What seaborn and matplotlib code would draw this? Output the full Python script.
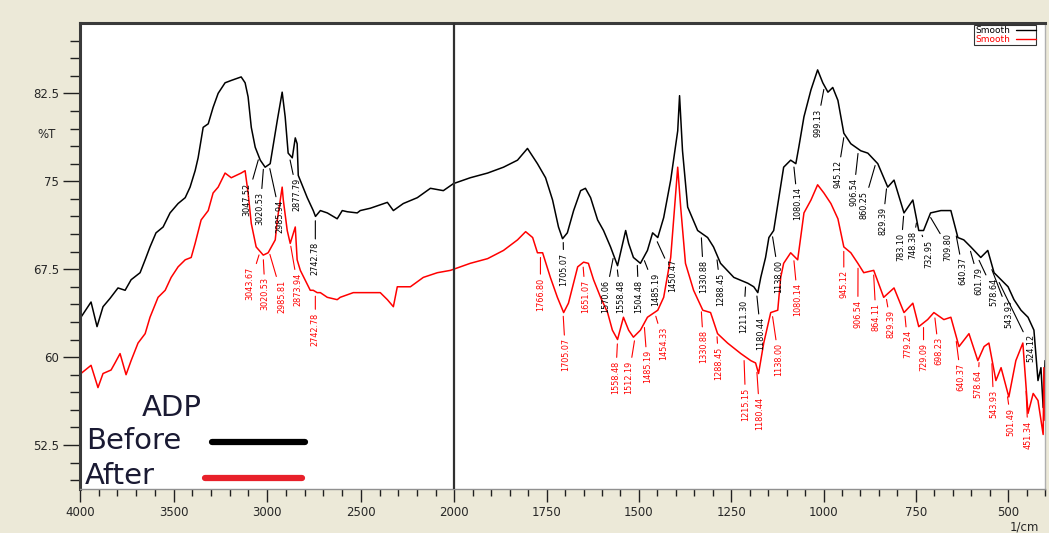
import numpy as np
import pandas as pd
import matplotlib
matplotlib.use('Agg')
import matplotlib.pyplot as plt
import seaborn as sns
from matplotlib.lines import Line2D
from matplotlib.ticker import FixedLocator, FuncFormatter

sns.set_style('ticks')
plt.rcParams['font.family'] = ['DejaVu Sans']

# spectra (wavenumber 1/cm, %T)
before_wn = [3995, 3941, 3909, 3877, 3840, 3797, 3759, 3727, 3679, 3652, 3626, 3594, 3556, 3519,
             3476, 3438, 3412, 3385, 3369, 3342, 3315, 3289, 3262, 3225, 3192, 3139, 3118, 3102,
             3085, 3064, 3037, 3011, 2984, 2946, 2920, 2904, 2888, 2866, 2850, 2840, 2834, 2786,
             2754, 2742, 2716, 2679, 2626, 2599, 2572, 2519, 2503, 2449, 2358, 2326, 2273, 2198,
             2128, 2059, 2005, 1957, 1910, 1867, 1829, 1802, 1775, 1753, 1734, 1718, 1707, 1694,
             1677, 1658, 1645, 1631, 1612, 1596, 1577, 1558, 1544, 1536, 1528, 1515, 1496, 1477,
             1463, 1449, 1433, 1414, 1395, 1390, 1382, 1368, 1341, 1314, 1298, 1279, 1243, 1205,
             1189, 1178, 1170, 1157, 1148, 1135, 1121, 1108, 1089, 1075, 1067, 1053, 1034, 1016,
             1002, 988, 975, 961, 945, 926, 899, 880, 853, 826, 809, 782, 758, 742, 729, 710, 682,
             655, 636, 620, 601, 574, 555, 538, 519, 500, 484, 465, 446, 430, 419, 411, 405, 400]
before_t = [63.4, 64.7, 62.6, 64.3, 65.0, 65.9, 65.7, 66.6, 67.2, 68.3, 69.4, 70.6, 71.1, 72.3,
            73.1, 73.6, 74.5, 75.9, 77.0, 79.6, 79.9, 81.3, 82.5, 83.4, 83.6, 83.9, 83.4, 82.2,
            79.6, 77.9, 76.8, 76.2, 76.5, 80.2, 82.6, 80.5, 77.4, 77.0, 78.7, 78.2, 75.5, 73.6,
            72.5, 72.0, 72.5, 72.3, 71.8, 72.5, 72.4, 72.3, 72.5, 72.7, 73.2, 72.5, 73.1, 73.6,
            74.4, 74.2, 74.8, 75.3, 75.7, 76.2, 76.8, 77.8, 76.5, 75.3, 73.4, 71.1, 70.1, 70.6,
            72.5, 74.2, 74.4, 73.6, 71.7, 70.8, 69.4, 67.8, 69.7, 70.8, 69.7, 68.5, 68.0, 69.1,
            70.6, 70.2, 71.9, 75.1, 79.3, 82.3, 77.6, 72.8, 70.8, 70.2, 69.4, 68.0, 66.8, 66.3,
            66.0, 65.5, 66.8, 68.5, 70.2, 70.8, 73.6, 76.2, 76.8, 76.5, 77.9, 80.5, 82.8, 84.5,
            83.4, 82.6, 83.0, 81.9, 79.1, 78.2, 77.6, 77.4, 76.5, 74.5, 75.1, 72.3, 73.4, 70.8,
            70.8, 72.3, 72.5, 72.5, 70.2, 70.0, 69.4, 68.5, 69.1, 67.2, 66.6, 66.0, 64.9, 64.0,
            63.4, 62.3, 58.0, 59.1, 55.7, 59.7]

after_wn = [3995, 3941, 3904, 3877, 3834, 3813, 3786, 3754, 3727, 3690, 3652, 3626, 3583, 3545,
            3513, 3476, 3438, 3406, 3385, 3353, 3315, 3289, 3262, 3225, 3192, 3139, 3118, 3102,
            3085, 3059, 3021, 2995, 2957, 2946, 2920, 2914, 2893, 2877, 2850, 2840, 2823, 2770,
            2754, 2733, 2716, 2679, 2626, 2610, 2540, 2449, 2396, 2358, 2326, 2305, 2235, 2166,
            2091, 2021, 1957, 1910, 1867, 1829, 1807, 1788, 1775, 1761, 1740, 1721, 1704, 1691,
            1666, 1650, 1637, 1623, 1604, 1585, 1572, 1558, 1542, 1528, 1515, 1496, 1477, 1449,
            1433, 1414, 1395, 1387, 1374, 1352, 1327, 1306, 1287, 1260, 1224, 1197, 1184, 1176,
            1162, 1143, 1124, 1116, 1108, 1089, 1070, 1053, 1034, 1016, 999, 980, 961, 945, 926,
            907, 891, 864, 837, 809, 782, 758, 742, 718, 701, 674, 655, 633, 606, 582, 565, 552,
            533, 519, 498, 479, 460, 446, 432, 419, 405, 403, 400]
after_t = [58.6, 59.3, 57.4, 58.6, 58.9, 59.5, 60.3, 58.5, 59.7, 61.2, 62.0, 63.4, 65.1, 65.7,
           66.8, 67.7, 68.3, 68.5, 69.7, 71.7, 72.5, 74.0, 74.5, 75.7, 75.3, 75.7, 75.9, 74.0,
           71.4, 69.4, 68.7, 68.9, 70.0, 71.7, 74.5, 73.4, 70.8, 69.7, 71.1, 68.3, 67.4, 65.7,
           65.7, 65.5, 65.5, 65.1, 64.9, 65.1, 65.5, 65.5, 65.5, 64.9, 64.3, 66.0, 66.0, 66.8,
           67.2, 67.4, 68.0, 68.4, 69.1, 70.0, 70.7, 70.2, 68.9, 68.9, 66.8, 65.1, 63.8, 64.6,
           67.7, 68.1, 68.0, 66.6, 65.1, 63.8, 62.3, 61.5, 63.4, 62.3, 61.7, 62.3, 63.4, 64.0,
           65.1, 68.5, 76.2, 72.8, 68.0, 65.7, 64.0, 63.8, 62.0, 61.2, 60.3, 59.7, 59.5, 58.6,
           61.2, 63.8, 64.0, 66.8, 68.0, 68.9, 68.3, 72.3, 73.4, 74.7, 74.0, 73.1, 71.8, 69.4,
           68.9, 68.0, 67.2, 67.4, 65.1, 65.9, 63.8, 64.6, 62.6, 63.2, 63.8, 63.2, 63.4, 60.9,
           62.0, 59.7, 60.9, 61.2, 58.0, 59.1, 56.6, 59.7, 61.2, 55.2, 56.9, 56.3, 53.4, 59.1,
           54.6]

# peak labels: text, label x (1/cm), label top (%T)
before_peaks = ['3047.52', '3020.53', '2985.94', '2877.79', '2742.78', '1705.07', '1570.06',
                '1558.48', '1504.48', '1485.19', '1450.47', '1330.88', '1288.45', '1211.30',
                '1180.44', '1138.00', '1080.14', '999.13', '945.12', '906.54', '860.25',
                '829.39', '783.10', '748.38', '732.95', '709.80', '640.37', '601.79', '578.64',
                '543.93', '524.12']
before_label_x = [3107, 3037, 2930, 2839, 2743, 1704, 1590, 1550, 1501, 1455, 1409, 1325, 1279,
                  1216, 1170, 1121, 1070, 1016, 961, 918, 891, 839, 790, 758, 714, 663, 622, 579,
                  539, 498, 438]
before_label_top = [74.9, 74.1, 73.4, 75.3, 69.8, 68.9, 66.6, 66.6, 66.6, 67.2, 68.4, 68.3, 67.2,
                    64.9, 63.4, 68.3, 74.5, 81.2, 76.8, 75.3, 74.2, 72.8, 70.6, 70.8, 70.0, 70.6,
                    68.5, 67.7, 66.8, 64.9, 62.0]

after_peaks = ['3043.67', '3020.53', '2985.81', '2873.94', '2742.78', '1766.80', '1705.07',
               '1651.07', '1558.48', '1512.19', '1485.19', '1454.33', '1330.88', '1288.45',
               '1215.15', '1180.44', '1138.00', '1080.14', '945.12', '906.54', '864.11',
               '829.39', '779.24', '729.09', '698.23', '640.37', '578.64', '543.93', '501.49',
               '451.34']
after_label_x = [3091, 3011, 2920, 2834, 2743, 1767, 1699, 1645, 1563, 1528, 1477, 1433, 1325,
                 1284, 1211, 1173, 1121, 1070, 945, 907, 858, 818, 772, 729, 688, 628, 582, 539,
                 492, 446]
after_label_top = [67.7, 66.8, 66.6, 67.2, 63.8, 66.8, 61.6, 66.6, 59.7, 59.7, 60.6, 62.6, 62.3,
                   60.9, 57.4, 56.6, 61.2, 66.3, 67.4, 64.9, 64.6, 64.0, 62.3, 61.2, 61.7, 59.5,
                   58.9, 57.2, 55.7, 54.6]

# the instrument draws 4000-2000 compressed and 2000-400 expanded
k_lo, k_hi = 0.36875, 0.187

def fwd(x):
    x = np.asarray(x, dtype=float)
    return np.where(x <= 2000, x * k_lo, 2000 * k_lo + (x - 2000) * k_hi)

def inv(u):
    u = np.asarray(u, dtype=float)
    b = 2000 * k_lo
    return np.where(u <= b, u / k_lo, 2000 + (u - b) / k_hi)

df = pd.concat([
    pd.DataFrame({'wn': before_wn, 'T': before_t, 'series': 'Before'}),
    pd.DataFrame({'wn': after_wn, 'T': after_t, 'series': 'After'}),
])

bg = '#ECE9D8'
fig = plt.figure(figsize=(10.49, 5.33), dpi=100, facecolor=bg)
ax = fig.add_axes([80 / 1049, 1 - 489 / 533, 965 / 1049, 466 / 533])
ax.set_facecolor('white')
ax.set_xscale('function', functions=(fwd, inv))

sns.lineplot(data=df, x='wn', y='T', hue='series', palette={'Before': 'black', 'After': 'red'},
             sort=False, estimator=None, legend=False, lw=1.1, ax=ax)

ax.set_xlim(4000, 400)
ax.set_ylim(48.75, 88.5)
ax.axvline(2000, color='#303030', lw=1.6, zorder=3)

ax.xaxis.set_major_locator(FixedLocator([4000, 3500, 3000, 2500, 2000, 1750, 1500, 1250, 1000, 750, 500]))
ax.xaxis.set_minor_locator(FixedLocator(list(np.arange(4000, 2000, -100)) + list(np.arange(2000, 399, -50))))
ax.xaxis.set_major_formatter(FuncFormatter(lambda v, p: f'{v:.0f}'))
ax.yaxis.set_major_locator(FixedLocator([52.5, 60, 67.5, 75, 82.5]))
ax.yaxis.set_minor_locator(FixedLocator(np.arange(49.5, 88, 1.5)))
ax.yaxis.set_major_formatter(FuncFormatter(lambda v, p: f'{v:g}'))
ax.tick_params(axis='both', which='major', labelsize=8.5, color='#202020', width=1)
ax.tick_params(axis='y', which='major', length=12, pad=3)
ax.tick_params(axis='y', which='minor', length=7, width=1, color='#202020')
ax.tick_params(axis='x', which='major', length=9, pad=3)
ax.tick_params(axis='x', which='minor', length=5, width=1, color='#202020')
ax.set_xlabel('')
ax.set_ylabel('')

for side in ['left', 'top']:
    ax.spines[side].set_color('#3a3a3a')
    ax.spines[side].set_linewidth(2.2)
ax.spines['bottom'].set_color('#909090')
ax.spines['bottom'].set_linewidth(1)
ax.spines['right'].set_color('#b0b0b0')
ax.spines['right'].set_linewidth(1)

fig.text(47 / 1049, 1 - 135 / 533, '%T', ha='center', va='center', fontsize=8.5)
fig.text(1024 / 1049, 1 - 527 / 533, '1/cm', ha='center', va='center', fontsize=8.5)

# peak labels with leaders
def label_peaks(wn, t, peaks, lx, ltop, color):
    xs = np.asarray(wn, dtype=float)[::-1]
    ys = np.asarray(t, dtype=float)[::-1]
    for p, x, y in zip(peaks, lx, ltop):
        pk = float(p)
        ax.annotate(p, xy=(pk, np.interp(pk, xs, ys) - 0.4), xytext=(x, y),
                    rotation=90, ha='center', va='top', fontsize=6.5, color=color,
                    fontstretch='condensed',
                    arrowprops=dict(arrowstyle='-', color=color, lw=0.8, shrinkA=0, shrinkB=0))

label_peaks(before_wn, before_t, before_peaks, before_label_x, before_label_top, 'black')
label_peaks(after_wn, after_t, after_peaks, after_label_x, after_label_top, 'red')

# small instrument legend, top right
smooth = ax.legend(handles=[Line2D([], [], color='black', lw=1), Line2D([], [], color='red', lw=1)],
                   labels=['Smooth', 'Smooth'], loc='upper right', bbox_to_anchor=(0.993, 1.0),
                   fontsize=6.5, markerfirst=False, frameon=True, fancybox=False, edgecolor='black',
                   handlelength=2.2, borderpad=0.1, labelspacing=0.05, handletextpad=0.6,
                   labelcolor='linecolor', borderaxespad=0.2)
smooth.get_frame().set_linewidth(0.8)

# hand-drawn ADP key, lower left (axes fractions)
ink = '#1a1a33'
ax.text(0.095, 0.174, 'ADP', transform=ax.transAxes, ha='center', va='center', fontsize=21, color=ink)
ax.text(0.006, 0.103, 'Before', transform=ax.transAxes, ha='left', va='center', fontsize=21, color=ink)
ax.text(0.005, 0.028, 'After', transform=ax.transAxes, ha='left', va='center', fontsize=21, color=ink)
ax.plot([0.137, 0.233], [0.101, 0.101], transform=ax.transAxes, color='black', lw=4.5,
        solid_capstyle='round')
ax.plot([0.1295, 0.230], [0.024, 0.024], transform=ax.transAxes, color='#e8202a', lw=4.5,
        solid_capstyle='round')

fig.savefig('out.png', dpi=100, facecolor=bg)
